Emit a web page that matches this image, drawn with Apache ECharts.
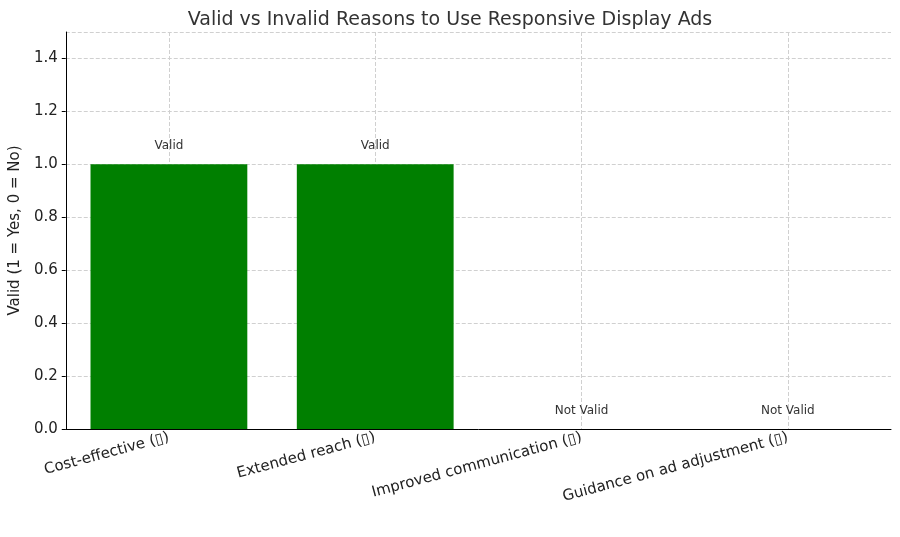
<!DOCTYPE html>
<html><head><meta charset="utf-8">
<script src="https://cdn.jsdelivr.net/npm/echarts@6/dist/echarts.min.js"></script>
</head><body style="margin:0">
<div id="c" style="width:900px;height:537px"></div>
<script>
const categories = ['Cost-effective (\u25AF)', 'Extended reach (\u25AF)', 'Improved communication (\u25AF)', 'Guidance on ad adjustment (\u25AF)'];
const validity = [1, 1, 0, 0];
const barLabels = ['Valid', 'Valid', 'Not Valid', 'Not Valid'];

const chart = echarts.init(document.getElementById('c'));
const font = 'DejaVu Sans';
chart.setOption({
  animation: false,
  textStyle: { fontFamily: font },
  title: {
    text: 'Valid vs Invalid Reasons to Use Responsive Display Ads',
    left: 'center', top: 6,
    textStyle: { fontSize: 19, fontWeight: 'normal', color: '#333', fontFamily: font }
  },
  grid: { left: 58, right: 9, top: 32, bottom: 108 },
  xAxis: [{
    type: 'category', data: categories,
    axisLine: { lineStyle: { color: '#000' } },
    axisTick: { alignWithLabel: true, length: 4, lineStyle: { color: '#000' } },
    axisLabel: { rotate: 15, color: '#222', fontSize: 15, margin: 8 },
    splitLine: { show: false }
  }, {
    type: 'value', min: 0, max: 8, interval: 1, show: true, position: 'bottom',
    axisLine: { show: false }, axisTick: { show: false }, axisLabel: { show: false },
    splitLine: { show: true, lineStyle: { type: 'dashed', color: ['transparent', '#d0d0d0'] } }
  }],
  yAxis: {
    type: 'value', min: 0, max: 1.5, interval: 0.2,
    name: 'Valid (1 = Yes, 0 = No)', nameLocation: 'middle', nameGap: 36,
    nameTextStyle: { fontSize: 15, color: '#222' },
    axisLine: { show: true, lineStyle: { color: '#000' } },
    axisTick: { show: true, length: 4, lineStyle: { color: '#000' } },
    axisLabel: { color: '#222', fontSize: 15, showMaxLabel: false, formatter: v => v.toFixed(1) },
    splitLine: { lineStyle: { type: 'dashed', color: '#d0d0d0' } }
  },
  series: [{
    type: 'bar', data: validity, barWidth: '76%', z: 1,
    itemStyle: { color: '#007f00' },
    label: {
      show: true, position: 'top', distance: 12, color: '#333', fontSize: 12,
      formatter: p => barLabels[p.dataIndex]
    }
  }]
});
</script></body></html>
